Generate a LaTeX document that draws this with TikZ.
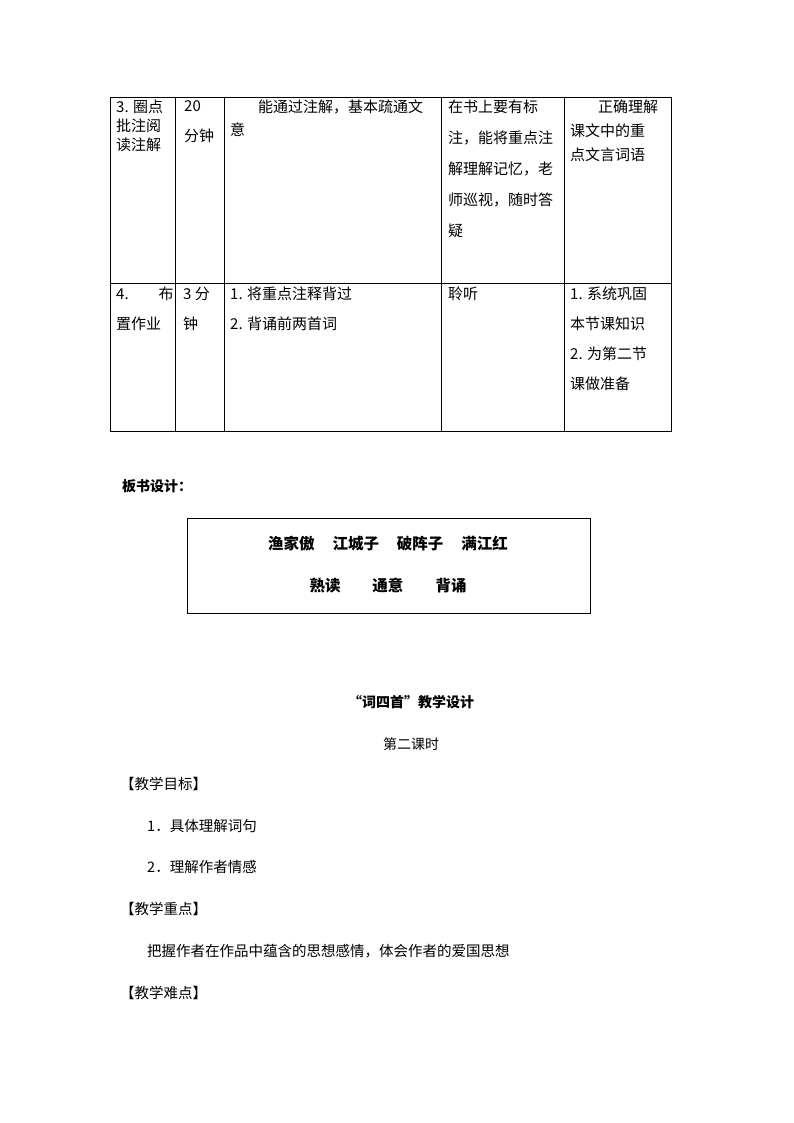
\documentclass[tikz,border=0pt]{standalone}
\usepackage{fontspec}
\setmainfont{Liberation Serif}
\newfontfamily\cjk{Noto Sans CJK SC}
\begin{document}
\begin{tikzpicture}[x=1pt,y=-1pt,
  t/.style={anchor=north west,inner sep=0pt,font=\cjk\fontsize{15}{30}\selectfont,align=left},
  b/.style={inner sep=0pt,font=\cjk\bfseries\fontsize{15.5}{17}\selectfont},
  grid/.style={line width=0.8pt}]
\useasboundingbox (0,0) rectangle (794,1123);
\draw[grid] (110,97) rectangle (671,431);
\draw[grid] (110,283) -- (671,283);
\foreach \x in {175,224,441,564} \draw[grid] (\x,97) -- (\x,431);
% row 1
\node[t,font=\cjk\fontsize{15}{19}\selectfont] (a1) at (116,100) {3. 圈点\\批注阅\\读注解};
\node[t,font=\cjk\fontsize{15}{30}\selectfont] (b1) at (184,100) {20\\分钟};
\node[t,font=\cjk\fontsize{15}{23}\selectfont,text width=210pt] (c1) at (230,100) {\hspace*{28pt}能通过注解，基本疏通文\\意};
\node[t,font=\cjk\fontsize{15}{31}\selectfont] (d1) at (448,100) {在书上要有标\\注，能将重点注\\解理解记忆，老\\师巡视，随时答\\疑};
\node[t,font=\cjk\fontsize{15}{24}\selectfont] (e1) at (570,100) {\hspace*{28pt}正确理解\\课文中的重\\点文言词语};
% row 2
\node[t] (a2) at (116,287) {4.\hspace{30pt}布\\置作业};
\node[t] (b2) at (183,287) {3 分\\钟};
\node[t] (c2) at (230,287) {1. 将重点注释背过\\2. 背诵前两首词};
\node[t] (d2) at (448,287) {聆听};
\node[t] (e2) at (570,287) {1. 系统巩固\\本节课知识\\2. 为第二节\\课做准备};
% board
\node[t,font=\cjk\bfseries\fontsize{14}{17}\selectfont] (bs) at (122,479) {板书设计：};
\draw[grid] (187,518) rectangle (590,613);
\node[b] (l1) at (388,544) {渔家傲\hspace{18pt}江城子\hspace{18pt}破阵子\hspace{18pt}满江红};
\node[b] (l2) at (388,586) {熟读\hspace{32pt}通意\hspace{32pt}背诵};
% title
\node[b,font=\cjk\bfseries\fontsize{14}{17}\selectfont] (ti) at (411,702) {“词四首”教学设计};
\node[inner sep=0pt,font=\cjk\fontsize{14}{17}\selectfont] (st) at (411,744) {第二课时};
\node[t,font=\cjk\fontsize{14.5}{17}\selectfont] (h1) at (120,777) {【教学目标】};
\node[t,font=\cjk\fontsize{14.5}{17}\selectfont] (i1) at (147,819) {1．具体理解词句};
\node[t,font=\cjk\fontsize{14.5}{17}\selectfont] (i2) at (147,860) {2．理解作者情感};
\node[t,font=\cjk\fontsize{14.5}{17}\selectfont] (h2) at (120,902) {【教学重点】};
\node[t,font=\cjk\fontsize{14.5}{17}\selectfont] (i3) at (147,944) {把握作者在作品中蕴含的思想感情，体会作者的爱国思想};
\node[t,font=\cjk\fontsize{14.5}{17}\selectfont] (h3) at (120,986) {【教学难点】};
\end{tikzpicture}
\end{document}
